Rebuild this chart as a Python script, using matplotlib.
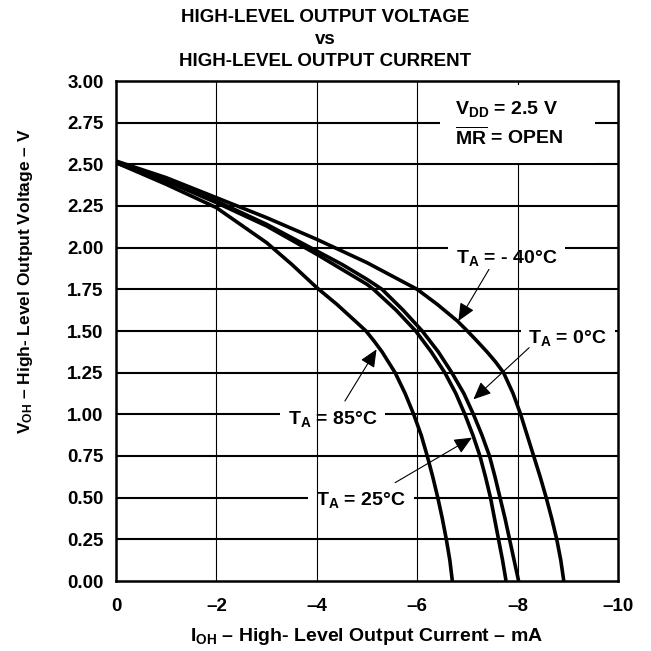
import matplotlib
matplotlib.use('Agg')
import matplotlib.pyplot as plt
from matplotlib.patches import ArrowStyle

plt.rcParams['font.family'] = ['Liberation Sans', 'DejaVu Sans']
plt.rcParams['font.weight'] = 'bold'
plt.rcParams['mathtext.fontset'] = 'custom'
plt.rcParams['mathtext.rm'] = 'Liberation Sans:bold'
plt.rcParams['mathtext.it'] = 'Liberation Sans:bold'
plt.rcParams['mathtext.bf'] = 'Liberation Sans:bold'
plt.rcParams['mathtext.default'] = 'regular'

# ---------------- data (I_OH in mA, V_OH in V) ----------------
i_m40 = [0, -1, -2, -3, -4, -4.5, -5, -5.5, -6.0, -6.4, -6.8, -7.0, -7.19, -7.39, -7.56,
         -7.72, -7.91, -8.06, -8.19, -8.32, -8.45, -8.57, -8.68, -8.78, -8.86, -8.92]
v_m40 = [2.52, 2.42, 2.30, 2.18, 2.05, 1.98, 1.91, 1.83, 1.75, 1.66, 1.56, 1.50, 1.44, 1.375, 1.315,
         1.25, 1.125, 1.00, 0.875, 0.75, 0.625, 0.50, 0.375, 0.25, 0.125, 0.00]

i_0 = [0, -1, -2, -3, -4, -4.5, -5, -5.3, -5.72, -6.1, -6.42, -6.69, -6.93, -7.12, -7.29,
       -7.44, -7.55, -7.65, -7.75, -7.84, -7.93, -8.02]
v_0 = [2.51, 2.40, 2.28, 2.14, 1.98, 1.90, 1.81, 1.75, 1.625, 1.50, 1.375, 1.25, 1.125, 1.00, 0.875,
       0.75, 0.625, 0.50, 0.375, 0.25, 0.125, 0.00]

i_25 = [0, -1, -2, -3, -4, -4.5, -5, -5.13, -5.58, -5.97, -6.28, -6.55, -6.77, -6.95, -7.11,
        -7.25, -7.36, -7.46, -7.54, -7.62, -7.70, -7.77]
v_25 = [2.51, 2.40, 2.27, 2.13, 1.96, 1.87, 1.78, 1.75, 1.625, 1.50, 1.375, 1.25, 1.125, 1.00, 0.875,
        0.75, 0.625, 0.50, 0.375, 0.25, 0.125, 0.00]

i_85 = [0, -1, -2, -3, -3.5, -4, -4.4, -4.8, -4.98, -5.14, -5.3, -5.56, -5.76, -5.93, -6.08,
        -6.20, -6.31, -6.41, -6.50, -6.58, -6.65, -6.70]
v_85 = [2.51, 2.38, 2.24, 2.03, 1.90, 1.76, 1.66, 1.55, 1.50, 1.44, 1.375, 1.25, 1.125, 1.00, 0.875,
        0.75, 0.625, 0.50, 0.375, 0.25, 0.125, 0.00]

x_ticks = [0, -2, -4, -6, -8, -10]
x_ticklabels = ['0', '\u20132', '\u20134', '\u20136', '\u20138', '\u201310']
y_ticks = [0.00, 0.25, 0.50, 0.75, 1.00, 1.25, 1.50, 1.75, 2.00, 2.25, 2.50, 2.75, 3.00]
y_ticklabels = ['%.2f' % v for v in y_ticks]

labels = ['T$_A$ = - 40\u00b0C', 'T$_A$ = 0\u00b0C', 'T$_A$ = 85\u00b0C', 'T$_A$ = 25\u00b0C']
label_pos = [(-7.78, 1.906), (-9.0, 1.426), (-4.31, 0.942), (-4.88, 0.456)]
arrow_from = [(-7.43, 1.87), (-8.23, 1.40), (-4.56, 1.08), (-5.56, 0.59)]
arrow_to = [(-6.82, 1.56), (-7.12, 1.09), (-5.19, 1.39), (-7.09, 0.86)]

cond_lines = ['$V_{DD}$ = 2.5 V     ', '$\\overline{MR}$ = OPEN    ']
cond_pos = [(-6.75, 2.80), (-6.75, 2.62)]

# ---------------- figure ----------------
fig = plt.figure(figsize=(6.51, 6.51), dpi=100)
ax = fig.add_axes([116/651, 1 - 581/651, 502/651, 500/651])
ax.set_xlim(0, -10)
ax.set_ylim(0, 3.0)

FS_TICK = 13.5
FS_LAB = 14

# horizontal grid (below label boxes)
for yv in y_ticks[1:-1]:
    ax.axhline(yv, color='black', lw=1.5, zorder=1)
# vertical grid (above T_A label boxes)
for xv in x_ticks[1:-1]:
    ax.axvline(xv, color='black', lw=0.8, zorder=3)

for s in ax.spines.values():
    s.set_linewidth(1.8)
    s.set_zorder(6)

for xs, ys in [(i_m40, v_m40), (i_0, v_0), (i_25, v_25), (i_85, v_85)]:
    ax.plot(xs, ys, color='black', lw=2.6, solid_joinstyle='round',
            solid_capstyle='butt', zorder=5)

for lab, (lx, ly) in zip(labels, label_pos):
    ax.text(lx, ly, lab, ha='center', va='baseline', fontsize=FS_LAB, fontweight='bold',
            zorder=2, bbox=dict(facecolor='white', edgecolor='none',
                                boxstyle='square,pad=0.4'))

astyle = ArrowStyle('-|>', head_length=0.45, head_width=0.2)
for (x0, y0), (x1, y1) in zip(arrow_from, arrow_to):
    ax.annotate('', xy=(x1, y1), xytext=(x0, y0), zorder=4,
                arrowprops=dict(arrowstyle=astyle, color='black', lw=0.8,
                                mutation_scale=24, shrinkA=0, shrinkB=0))

# white background boxes first, then the text on top
box = dict(facecolor='white', edgecolor='none', boxstyle='square,pad=0.75')
for txt, (cx, cy) in zip(cond_lines, cond_pos):
    ax.text(cx, cy, txt, ha='left', va='baseline', fontsize=FS_LAB, fontweight='bold',
            color='white', zorder=4, bbox=box)
for txt, (cx, cy) in zip(cond_lines, cond_pos):
    ax.text(cx, cy, txt, ha='left', va='baseline', fontsize=FS_LAB, fontweight='bold',
            color='black', zorder=4.5)

ax.set_xticks(x_ticks)
ax.set_xticklabels(x_ticklabels)
ax.set_yticks(y_ticks)
ax.set_yticklabels(y_ticklabels)
ax.tick_params(length=0, labelsize=FS_TICK)
ax.tick_params(axis='y', pad=9)
ax.tick_params(axis='x', pad=12)
for t in ax.get_xticklabels() + ax.get_yticklabels():
    t.set_fontweight('bold')

ax.set_xlabel('I$_{OH}$ \u2013 High- Level Output Current \u2013 mA', fontsize=FS_LAB,
              fontweight='bold', labelpad=8)
ax.set_ylabel('V$_{OH}$ \u2013 High- Level Output Voltage \u2013 V', fontsize=12.5,
              fontweight='bold')
ax.yaxis.set_label_coords(-0.162, 0.60)

fig.text(0.5, 1 - 9/651, 'HIGH-LEVEL OUTPUT VOLTAGE\nvs\nHIGH-LEVEL OUTPUT CURRENT',
         ha='center', va='top', fontsize=FS_TICK, fontweight='bold', linespacing=1.4)

fig.savefig('out.png', dpi=100, facecolor='white')
